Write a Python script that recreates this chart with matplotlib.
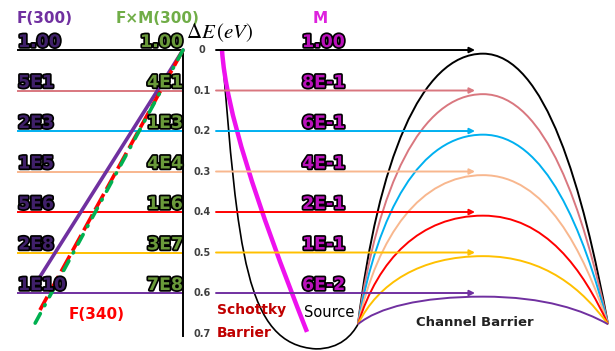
import numpy as np
import matplotlib.pyplot as plt
import matplotlib.patheffects as pe
from matplotlib.path import Path
from matplotlib.patches import PathPatch

plt.rcParams['mathtext.fontset'] = 'stix'

# energy levels (eV) and their colours
levels = [0.0, 0.1, 0.2, 0.3, 0.4, 0.5, 0.6]
level_colors = ['black', '#D9777F', '#00B0F0', '#F8B78E', '#FF0000', '#FFC000', '#7030A0']

# factors at each level
F300 = ['1.00', '5E1', '2E3', '1E5', '5E6', '2E8', '1E10']
FM300 = ['1.00', '4E1', '1E3', '4E4', '1E6', '3E7', '7E8']
M = ['1.00', '8E-1', '6E-1', '4E-1', '2E-1', '1E-1', '6E-2']

tick_vals = [0, 0.1, 0.2, 0.3, 0.4, 0.5, 0.6, 0.7]
tick_text = ['0', '0.1', '0.2', '0.3', '0.4', '0.5', '0.6', '0.7']

# left panel: decades (log10) vs dE
f300_dec = [0, 9.35]
f300_E = [0, 0.56]
f340_dec = [0, 9.35]
f340_E = [0, 0.642]
fm300_dec = [0, 9.8]
fm300_E = [0, 0.684]

# schottky contact + source well, bezier control points (x, dE)
schottky_x = [222, 238, 245, 316, 340, 352, 358]
schottky_E = [0, 0.494, 0.728, 0.738, 0.738, 0.704, 0.677]
# image force lowered barrier
sb_x = [222, 226, 255, 307]
sb_E = [0, 0.148, 0.370, 0.696]

# channel barrier tops sit just under the arrows
barrier_tops = [l + 0.009 for l in levels]
base_E = 0.677

fig = plt.figure(figsize=(6.15, 3.51), dpi=100)
ax = fig.add_axes([0, 0, 1, 1])
ax.set_xlim(0, 615)
ax.set_ylim(0.7432, -0.1235)
ax.axis('off')

x_axis = 183
dec_px = 15.3
def dec_to_x(d):
    return x_axis - dec_px * np.asarray(d)

stroke = [pe.withStroke(linewidth=2.5, foreground='black')]
lift = 3 / 405

for E, c in zip(levels, level_colors):
    ax.plot([18, x_axis], [E, E], color=c, lw=1.4)
    ax.annotate('', xy=(475, E), xytext=(216, E),
                arrowprops=dict(arrowstyle='-|>', color=c, lw=1.4, mutation_scale=8,
                                shrinkA=0, shrinkB=0))

ax.plot([x_axis, x_axis], [0, 0.705], color='black', lw=1.4)

# F and FxM vs dE
ax.plot(dec_to_x(f300_dec), f300_E, color='#7030A0', lw=2.6, solid_capstyle='round')
ax.plot(dec_to_x(f340_dec), f340_E, color='#FF0000', lw=2.6, dashes=(5, 1.5))
ax.plot(dec_to_x(fm300_dec), fm300_E, color='#00B050', lw=2.6, dashes=(3, 2.5, 0.3, 2.5),
        dash_capstyle='round')

# labels
for E, a, b, m in zip(levels, F300, FM300, M):
    ax.text(18, E - lift, a, fontsize=12.5, fontweight='bold', color='#40206A',
            ha='left', va='baseline', path_effects=stroke)
    ax.text(x_axis, E - lift, b, fontsize=12.5, fontweight='bold', color='#6A9A3A',
            ha='right', va='baseline', path_effects=stroke)
    ax.text(302, E - lift, m, fontsize=12.5, fontweight='bold', color='#BB11BB',
            ha='left', va='baseline', path_effects=stroke)

for v, t in zip(tick_vals, tick_text):
    ax.text(202, v, t, fontsize=7, fontweight='bold', color='#404040', ha='center', va='center')

ax.text(45, -0.079, 'F(300)', fontsize=11, fontweight='bold', color='#7030A0', ha='center', va='center')
ax.text(158, -0.079, 'F×M(300)', fontsize=11, fontweight='bold', color='#70AD47', ha='center', va='center')
ax.text(320, -0.079, 'M', fontsize=11, fontweight='bold', color='#DD22DD', ha='center', va='center')
ax.text(186, -0.044, r'$\Delta E\,(eV)$', fontsize=15, ha='left', va='center')

ax.text(97, 0.654, 'F(340)', fontsize=11, fontweight='bold', color='#FF0000', ha='center', va='center')
ax.text(217, 0.642, 'Schottky', fontsize=10, fontweight='bold', color='#C00000', ha='left', va='center')
ax.text(217, 0.699, 'Barrier', fontsize=10, fontweight='bold', color='#C00000', ha='left', va='center')
ax.text(304, 0.647, 'Source', fontsize=10.5, fontweight='medium', color='black', ha='left', va='center')
ax.text(475, 0.672, 'Channel Barrier', fontsize=9.5, fontweight='bold', color='#222222', ha='center', va='center')

# schottky barrier and source well
codes7 = [Path.MOVETO] + [Path.CURVE4] * 6
ax.add_patch(PathPatch(Path(list(zip(schottky_x, schottky_E)), codes7), fill=False,
                       edgecolor='black', lw=1.2))
codes4 = [Path.MOVETO] + [Path.CURVE4] * 3
ax.add_patch(PathPatch(Path(list(zip(sb_x, sb_E)), codes4), fill=False,
                       edgecolor='#EE11EE', lw=3.2, capstyle='butt'))

# channel barriers from source to drain
x0, x1 = 358, 608
w = x1 - x0
for top, c in zip(barrier_tops, level_colors):
    h = base_E - top
    verts = [(x0, base_E), (x0 + 0.08 * w, base_E - 0.6 * h), (x0 + 0.25 * w, top), (x0 + 0.5 * w, top),
             (x0 + 0.75 * w, top), (x0 + 0.9 * w, base_E - 0.5 * h), (x1, base_E)]
    ax.add_patch(PathPatch(Path(verts, codes7), fill=False, edgecolor=c, lw=1.4))

fig.savefig('out.png', dpi=100)
